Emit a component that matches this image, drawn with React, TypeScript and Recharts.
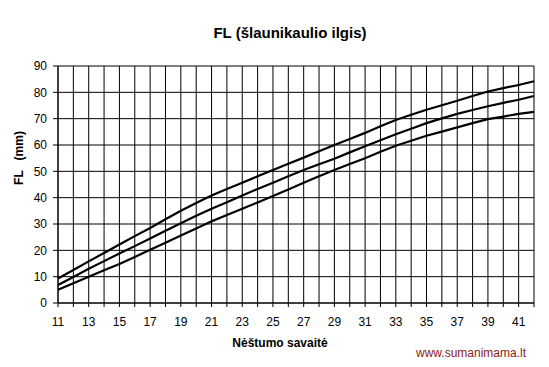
import React from "react";
import { LineChart, Line, XAxis, YAxis, CartesianGrid } from "recharts";

const weeks = [11,12,13,14,15,16,17,18,19,20,21,22,23,24,25,26,27,28,29,30,31,32,33,34,35,36,37,38,39,40,41,42];
const upper = [9.3,12.5,15.8,19,22.2,25.4,28.5,31.8,35,38,40.8,43.3,45.7,48.1,50.5,52.9,55.2,57.6,60,62.3,64.6,67.1,69.5,71.5,73.4,75.1,76.8,78.6,80.3,81.6,82.8,84.2];
const middle = [6.8,9.9,13,15.9,18.8,21.6,24.5,27.4,30.3,33.1,35.8,38.3,40.8,43.3,45.7,48.1,50.5,52.7,54.8,57.2,59.5,61.8,64.1,66.2,68.3,70.1,71.8,73.3,74.7,76,77.2,78.6];
const lower = [5,7.5,10,12.4,14.8,17.5,20.2,22.9,25.6,28.3,31,33.4,35.8,38.2,40.6,43.1,45.7,48.1,50.5,52.8,55,57.4,59.7,61.6,63.5,65.1,66.7,68.3,69.8,70.8,71.8,72.6];
const yTicks = [0,10,20,30,40,50,60,70,80,90];

const data = weeks.map((w, i) => ({ w, upper: upper[i], middle: middle[i], lower: lower[i] }));

const font = "'Liberation Sans', Arial, sans-serif";

export default function App() {
  return (
    <div style={{ position: "absolute", left: 0, top: 0, width: 549, height: 367, background: "#fff", fontFamily: font }}>
      <LineChart width={549} height={367} data={data} margin={{ top: 66, right: 15, bottom: 34, left: 0 }}>
        <CartesianGrid stroke="#000" strokeWidth={1} vertical={true} horizontal={true} />
        <XAxis
          dataKey="w"
          type="number"
          domain={[11, 42]}
          ticks={weeks}
          interval={0}
          height={30}
          tickSize={4}
          tickMargin={10}
          tickFormatter={(v: number) => (v % 2 === 1 && v < 42 ? String(v) : "")}
          tick={{ fill: "#000", fontSize: 12, fontFamily: font }}
          axisLine={{ stroke: "#000" }}
          tickLine={{ stroke: "#000" }}
        />
        <YAxis
          type="number"
          domain={[0, 90]}
          ticks={yTicks}
          interval={0}
          width={58}
          tickSize={5}
          tickMargin={6}
          tick={{ fill: "#000", fontSize: 12, fontFamily: font }}
          axisLine={{ stroke: "#000" }}
          tickLine={{ stroke: "#000" }}
        />
        <Line dataKey="upper" stroke="#000" strokeWidth={2.2} dot={false} isAnimationActive={false} type="linear" />
        <Line dataKey="middle" stroke="#000" strokeWidth={2.2} dot={false} isAnimationActive={false} type="linear" />
        <Line dataKey="lower" stroke="#000" strokeWidth={2.2} dot={false} isAnimationActive={false} type="linear" />
      </LineChart>
      <div style={{ position: "absolute", left: 0, width: 580, top: 24, textAlign: "center", fontWeight: "bold", fontSize: 15, lineHeight: "18px", color: "#000" }}>
        FL (šlaunikaulio ilgis)
      </div>
      <div style={{ position: "absolute", left: 180, width: 200, top: 336, textAlign: "center", fontWeight: "bold", fontSize: 12, lineHeight: "15px", color: "#000" }}>
        Nėštumo savaitė
      </div>
      <div style={{ position: "absolute", left: 19, top: 158, width: 0, height: 0 }}>
        <div style={{ position: "absolute", left: -60, top: -8, width: 120, textAlign: "center", fontWeight: "bold", fontSize: 12, lineHeight: "16px", transform: "rotate(-90deg)", whiteSpace: "pre", color: "#000" }}>
          {"FL   (mm)"}
        </div>
      </div>
      <div style={{ position: "absolute", left: 416, top: 346, fontSize: 12, lineHeight: "15px", color: "#8b1a1a", fontFamily: "Arial, 'Liberation Sans', sans-serif" }}>
        www.sumanimama.lt
      </div>
    </div>
  );
}
